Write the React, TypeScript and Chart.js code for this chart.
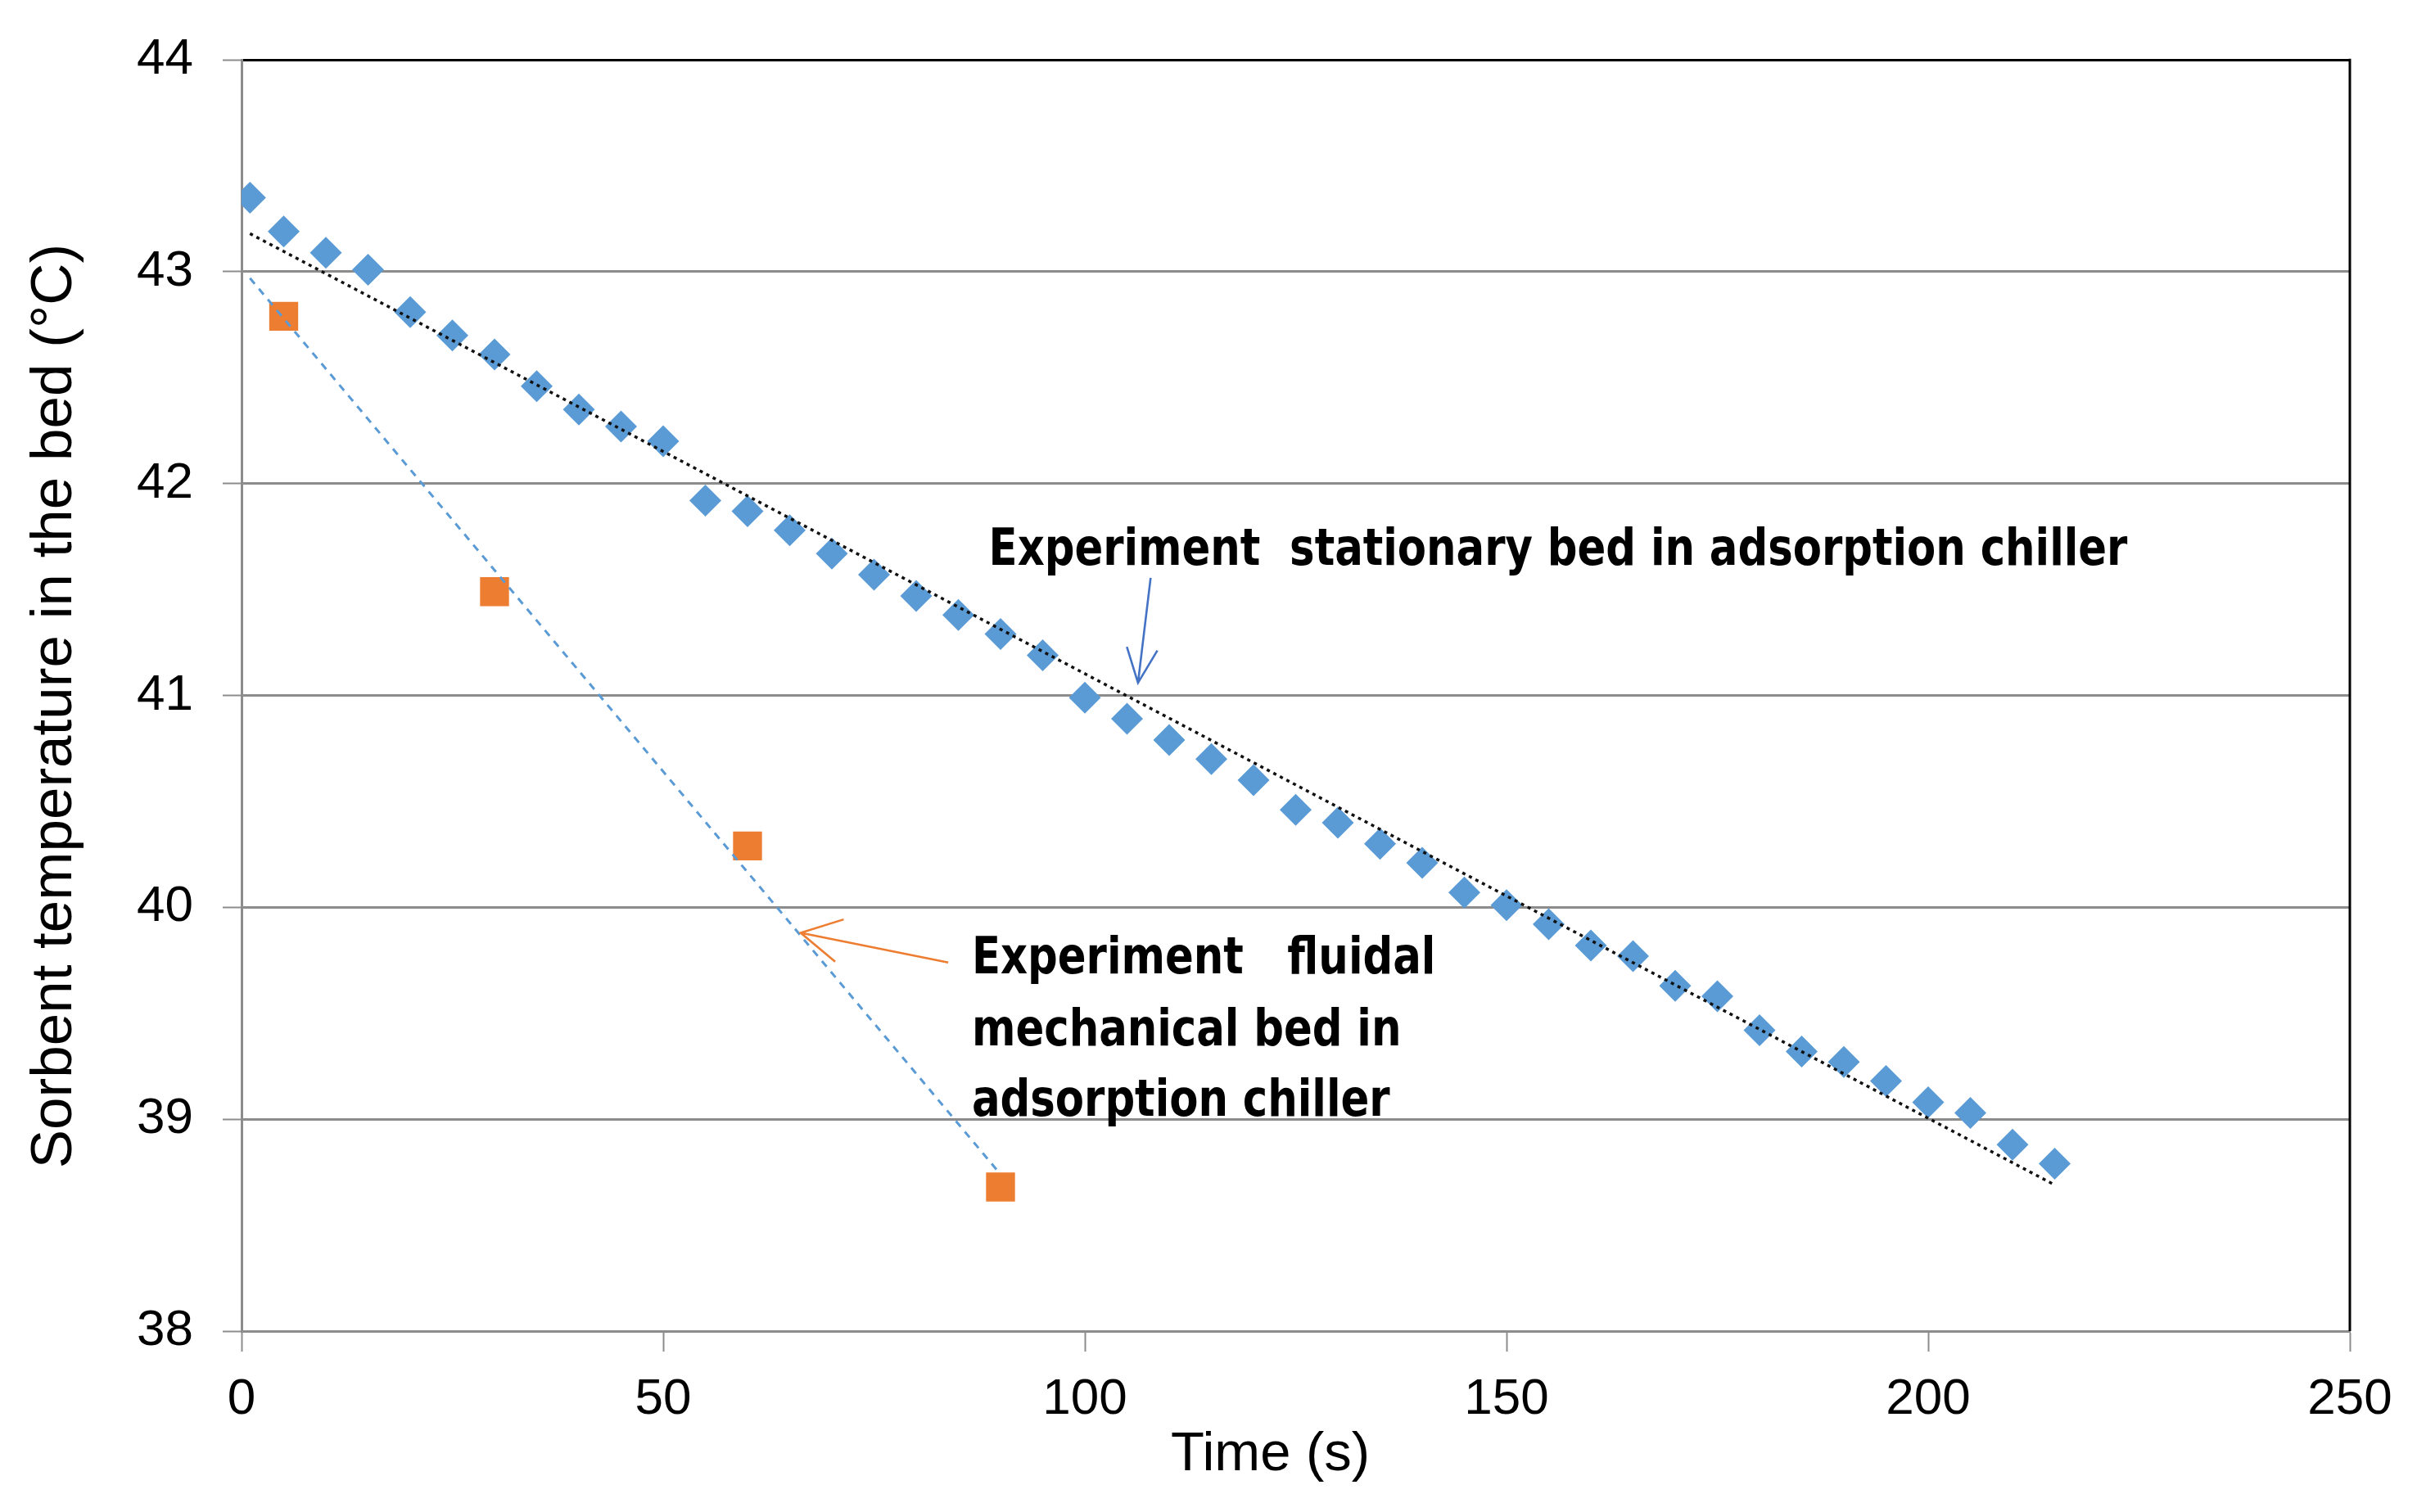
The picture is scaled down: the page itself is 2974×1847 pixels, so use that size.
import React, { useEffect, useRef } from "react";
import { Chart, registerables } from "chart.js";

Chart.register(...registerables);

// ---- Data ----
const stationaryTime = [1, 5, 10, 15, 20, 25, 30, 35, 40, 45, 50, 55, 60, 65, 70, 75, 80, 85, 90, 95, 100, 105, 110, 115, 120, 125, 130, 135, 140, 145, 150, 155, 160, 165, 170, 175, 180, 185, 190, 195, 200, 205, 210, 215];
const stationaryTemp = [43.35, 43.19, 43.09, 43.01, 42.81, 42.70, 42.61, 42.46, 42.35, 42.27, 42.20, 41.92, 41.87, 41.78, 41.67, 41.57, 41.47, 41.38, 41.29, 41.19, 40.99, 40.89, 40.79, 40.70, 40.60, 40.46, 40.40, 40.30, 40.21, 40.07, 40.01, 39.92, 39.82, 39.77, 39.63, 39.58, 39.42, 39.32, 39.27, 39.18, 39.08, 39.03, 38.88, 38.79];

const fluidalTime = [5, 30, 60, 90];
const fluidalTemp = [42.79, 41.49, 40.29, 38.68];

// Trendline endpoints
const stationaryTrendTime = [1, 215];
const stationaryTrendTemp = [43.18, 38.69];
const fluidalTrendTime = [1, 90];
const fluidalTrendTemp = [42.97, 38.74];

const xTicksMin = 0;
const xTicksMax = 250;
const xStep = 50;
const yTicksMin = 38;
const yTicksMax = 44;
const yStep = 1;

const yTitle = "Sorbent temperature in the bed (°C)";
const xTitle = "Time (s)";

const stationaryLabel = "Experiment  stationary bed in adsorption chiller";
const fluidalLabelLines = ["Experiment   fluidal", "mechanical bed in", "adsorption chiller"];

// annotation anchors in data units
const stationaryLabelPos = { x: 88.6, y: 41.68 };
const stationaryArrow = { from: { x: 107.8, y: 41.555 }, to: { x: 106.3, y: 41.06 } };
const fluidalLabelPos = { x: 86.6, ys: [39.75, 39.41, 39.08] };
const fluidalArrow = { from: { x: 83.8, y: 39.74 }, to: { x: 66.3, y: 39.88 } };

// axis-title anchors in data units
const xTitlePos = { x: 122, offsetPx: 152 };
const yTitlePos = { y: 40.95, px: 67 };

const BLUE = "#5B9BD5";
const ORANGE = "#ED7D31";
const GRID = "#8C8C8C";

function toPoints(xs: number[], ys: number[]) {
  return xs.map((x, i) => ({ x, y: ys[i] }));
}

function drawArrow(ctx: CanvasRenderingContext2D, x1: number, y1: number, x2: number, y2: number, color: string, headLen: number, headAngle: number) {
  ctx.save();
  ctx.strokeStyle = color;
  ctx.lineWidth = 2.6;
  ctx.beginPath();
  ctx.moveTo(x1, y1);
  ctx.lineTo(x2, y2);
  const ang = Math.atan2(y1 - y2, x1 - x2);
  ctx.moveTo(x2 + headLen * Math.cos(ang + headAngle), y2 + headLen * Math.sin(ang + headAngle));
  ctx.lineTo(x2, y2);
  ctx.lineTo(x2 + headLen * Math.cos(ang - headAngle), y2 + headLen * Math.sin(ang - headAngle));
  ctx.stroke();
  ctx.restore();
}

function fillCompressed(ctx: CanvasRenderingContext2D, text: string, x: number, y: number, sx: number) {
  ctx.save();
  ctx.translate(x, y);
  ctx.scale(sx, 1);
  ctx.fillText(text, 0, 0);
  ctx.restore();
}

const decorPlugin = {
  id: "decor",
  afterDraw(chart: any) {
    const { ctx, chartArea, scales } = chart;
    const x = scales.x;
    const y = scales.y;
    ctx.save();
    // right border
    ctx.strokeStyle = "#000";
    ctx.lineWidth = 3;
    ctx.beginPath();
    ctx.moveTo(chartArea.right, chartArea.top - 1.5);
    ctx.lineTo(chartArea.right, chartArea.bottom);
    ctx.stroke();

    // axis titles
    ctx.fillStyle = "#000";
    ctx.textAlign = "center";
    ctx.textBaseline = "middle";
    ctx.font = "67px 'Liberation Sans', Arial, sans-serif";
    ctx.fillText(xTitle, x.getPixelForValue(xTitlePos.x), chartArea.bottom + xTitlePos.offsetPx);
    ctx.save();
    ctx.translate(yTitlePos.px, y.getPixelForValue(yTitlePos.y));
    ctx.rotate(-Math.PI / 2);
    ctx.font = "71px 'Liberation Sans', Arial, sans-serif";
    ctx.fillText(yTitle, 0, 0);
    ctx.restore();

    // annotations
    ctx.font = "bold 63px 'DejaVu Sans Condensed', 'Liberation Sans', sans-serif";
    ctx.textBaseline = "middle";
    ctx.textAlign = "left";
    fillCompressed(ctx, stationaryLabel, x.getPixelForValue(stationaryLabelPos.x), y.getPixelForValue(stationaryLabelPos.y), 0.905);
    fluidalLabelLines.forEach((line, i) => {
      fillCompressed(ctx, line, x.getPixelForValue(fluidalLabelPos.x), y.getPixelForValue(fluidalLabelPos.ys[i]), 0.905);
    });

    drawArrow(
      ctx,
      x.getPixelForValue(stationaryArrow.from.x), y.getPixelForValue(stationaryArrow.from.y),
      x.getPixelForValue(stationaryArrow.to.x), y.getPixelForValue(stationaryArrow.to.y),
      "#4472C4", 46, 0.42
    );
    drawArrow(
      ctx,
      x.getPixelForValue(fluidalArrow.from.x), y.getPixelForValue(fluidalArrow.from.y),
      x.getPixelForValue(fluidalArrow.to.x), y.getPixelForValue(fluidalArrow.to.y),
      ORANGE, 55, 0.5
    );
    ctx.restore();
  },
};

export default function App() {
  const ref = useRef<HTMLCanvasElement>(null);

  useEffect(() => {
    document.body.style.margin = "0";
    document.body.style.overflow = "hidden";
    const canvas = ref.current!;
    const chart = new Chart(canvas, {
      type: "scatter",
      data: {
        datasets: [
          {
            label: "Stationary trend",
            data: toPoints(stationaryTrendTime, stationaryTrendTemp),
            showLine: true,
            borderColor: "#111",
            borderWidth: 3.5,
            borderDash: [4, 5],
            pointRadius: 0,
            order: 0,
          },
          {
            label: "Fluidal trend",
            data: toPoints(fluidalTrendTime, fluidalTrendTemp),
            showLine: true,
            borderColor: BLUE,
            borderWidth: 3,
            borderDash: [9, 8],
            pointRadius: 0,
            order: 1,
          },
          {
            label: "Experiment stationary bed",
            data: toPoints(stationaryTime, stationaryTemp),
            pointStyle: "rectRot",
            pointRadius: 19.5,
            backgroundColor: BLUE,
            borderColor: BLUE,
            borderWidth: 0,
            order: 2,
          },
          {
            label: "Experiment fluidal mechanical bed",
            data: toPoints(fluidalTime, fluidalTemp),
            pointStyle: "rect",
            pointRadius: 25,
            backgroundColor: ORANGE,
            borderColor: ORANGE,
            borderWidth: 0,
            order: 3,
          },
        ],
      },
      options: {
        animation: false,
        responsive: false,
        devicePixelRatio: 1,
        layout: { padding: { top: 72, right: 104, bottom: 0, left: 0 } },
        plugins: {
          legend: { display: false },
          tooltip: { enabled: false },
        },
        scales: {
          x: {
            type: "linear",
            min: xTicksMin,
            max: xTicksMax,
            ticks: {
              stepSize: xStep,
              color: "#000",
              padding: 22,
              font: { family: "'Liberation Sans', Arial, sans-serif", size: 62 },
            },
            grid: {
              display: true,
              drawOnChartArea: false,
              drawTicks: true,
              tickLength: 25,
              tickColor: GRID,
              tickWidth: 2,
            },
            border: { display: true, color: GRID, width: 3 },
            title: { display: false, text: xTitle },
            afterFit: (scale: any) => {
              scale.height = 221;
            },
          },
          y: {
            type: "linear",
            min: yTicksMin,
            max: yTicksMax,
            ticks: {
              stepSize: yStep,
              color: "#000",
              padding: 36,
              font: { family: "'Liberation Sans', Arial, sans-serif", size: 62 },
            },
            grid: {
              color: (ctx: any) => (ctx.tick && ctx.tick.value === yTicksMax ? "#000" : GRID),
              lineWidth: 3,
              tickLength: 23,
              tickColor: GRID,
              tickWidth: 2,
            },
            border: { display: true, color: GRID, width: 3 },
            title: { display: false, text: yTitle },
            afterFit: (scale: any) => {
              scale.width = 295;
            },
          },
        },
      },
      plugins: [decorPlugin],
    } as any);
    return () => chart.destroy();
  }, []);

  return (
    <canvas
      ref={ref}
      width={2974}
      height={1847}
      style={{ display: "block", width: "2974px", height: "1847px", background: "#fff" }}
    />
  );
}
